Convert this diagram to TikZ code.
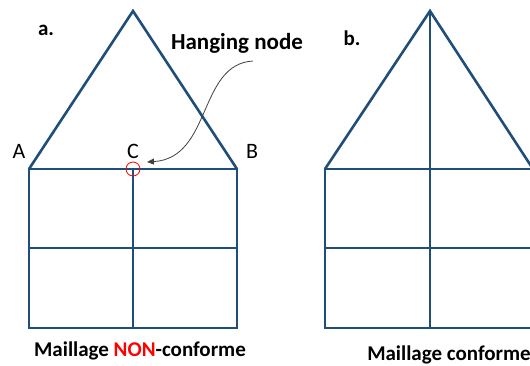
\documentclass[tikz,border=0pt]{standalone}
\usepackage{fontspec}
\setmainfont{Carlito}
\usetikzlibrary{arrows.meta}
\definecolor{meshblue}{RGB}{31,78,121}
\definecolor{nonred}{RGB}{255,0,0}
\begin{document}
\begin{tikzpicture}[x=1pt,y=-1pt,
  mesh/.style={draw=meshblue,line width=2.6pt,line join=miter},
  lbl/.style={font=\fontsize{22}{24}\selectfont,inner sep=0pt},
  bold/.style={font=\fontsize{21}{24}\selectfont\bfseries,inner sep=0pt},
  bigbold/.style={font=\fontsize{23}{26}\selectfont\bfseries,inner sep=0pt},
  callout/.style={draw=black!75,line width=0.8pt,-{Triangle[length=7pt,width=6pt]}}]
\useasboundingbox (0,0) rectangle (530,365);
\begin{scope}
\clip (0,0) rectangle (530,365);
% figure a
\coordinate (aA) at (29,169);
\coordinate (aB) at (237,169);
\coordinate (aT) at (133,11);
\coordinate (aC) at (133,169);
\draw[mesh] (aA) -- (aT) -- (aB);
\draw[mesh] (29,169) rectangle (237,328);
\draw[mesh] (29,248) -- (237,248);
\draw[mesh] (aC) -- (133,328);
% figure b
\coordinate (bA) at (325,169);
\coordinate (bB) at (533,169);
\coordinate (bT) at (430,11);
\draw[mesh] (bA) -- (bT) -- (bB);
\draw[mesh] (325,169) rectangle (533,328);
\draw[mesh] (325,248) -- (533,248);
\draw[mesh] (bT) -- (430,328);
\end{scope}
% labels
\node[bold] (la) at (46,30) {a.};
\node[bold] (lb) at (352,38) {b.};
\node[bigbold] (hang) at (237,43) {Hanging node};
\node[lbl] (A) at (19,151) {A};
\node[lbl] (C) at (133,151) {C};
\node[lbl] (B) at (252,151) {B};
\node[draw=nonred,circle,line width=0.8pt,minimum size=14pt,inner sep=0pt] (hn) at (aC) {};
\coordinate (arrs) at (253,61);
\coordinate (arre) at (147,162);
\draw[callout] (arrs) .. controls (198,64) and (212,158) .. (arre);
\node[bold] (capa) at (140,351) {Maillage \textcolor{nonred}{NON}-conforme};
\node[bold] (capb) at (449,355) {Maillage conforme};
\end{tikzpicture}
\end{document}
